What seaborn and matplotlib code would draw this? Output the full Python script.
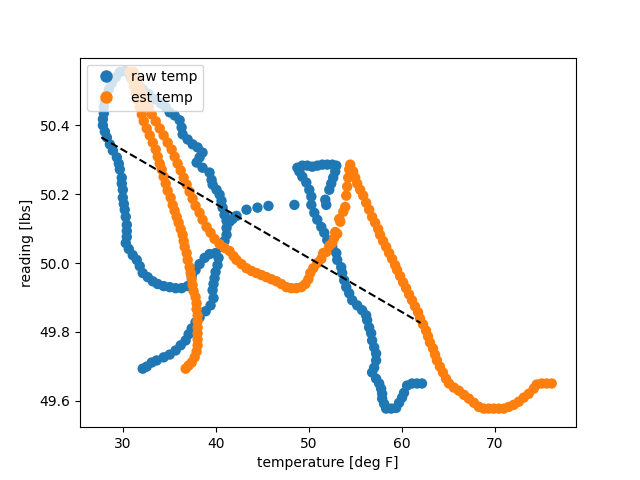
import matplotlib
matplotlib.use('Agg')
import matplotlib.pyplot as plt
import numpy as np
import pandas as pd
import seaborn as sns

# raw temperature readings (deg F) vs scale reading (lbs)
raw_x = [29.68, 29.25, 28.82, 28.50, 28.29, 28.07, 27.96, 27.96, 27.86, 27.86,
         28.07, 28.29, 28.61, 28.93, 29.36, 29.57, 29.68, 29.89, 29.89, 30.00,
         30.00, 30.11, 30.21, 30.32, 30.43, 30.43, 30.43, 30.32, 30.64, 31.07,
         31.50, 31.82, 32.14, 32.68, 33.22, 33.75, 34.39, 35.04, 35.68, 36.32,
         36.97, 37.40, 37.82, 38.25, 38.79, 39.32, 39.97, 40.29, 40.18, 39.97,
         39.86, 39.75, 39.65, 39.75, 39.43, 38.90, 38.25, 37.82, 37.40, 37.07,
         36.75, 36.22, 35.68, 35.04, 34.39, 33.64, 33.11, 32.57, 32.14,
         # upper strand
         30.21, 30.86, 31.50, 32.14, 32.79, 33.43, 34.07, 34.61, 35.04, 35.57,
         36.11, 36.32, 36.43, 36.97, 37.50, 38.04, 38.57, 38.25, 37.93, 38.57,
         39.32, 39.54, 39.65, 40.07, 40.40, 40.61, 40.72, 40.93, 41.15, 41.15,
         41.15, 40.93, 40.61, 41.47, 41.79, 42.22, 43.29, 44.47, 45.65, 48.44,
         # right loop
         48.76, 49.29, 49.83, 50.36, 50.90, 51.44, 51.97, 52.51, 52.94, 52.83,
         52.61, 52.40, 52.19, 51.76, 51.86, 48.97, 49.29, 49.72, 50.04, 50.26,
         50.26, 50.58, 50.90, 51.33, 51.65, 51.97, 52.51, 52.94, 53.04, 53.47,
         53.58, 53.79, 54.01, 54.33, 54.65, 55.19, 55.72, 56.15, 56.26, 56.47,
         56.69, 56.79, 57.01, 57.22, 57.22, 57.01, 56.79, 57.22, 57.55, 57.76,
         57.87, 57.87, 58.08, 58.30, 58.83, 59.37, 59.69, 60.01, 60.22, 60.55,
         61.08, 61.62, 62.15]
raw_y = [50.555, 50.540, 50.523, 50.505, 50.488, 50.470, 50.453, 50.435, 50.418, 50.400,
         50.382, 50.365, 50.345, 50.327, 50.307, 50.289, 50.272, 50.248, 50.231, 50.213,
         50.190, 50.172, 50.155, 50.134, 50.111, 50.093, 50.076, 50.058, 50.041, 50.023,
         50.009, 49.991, 49.971, 49.959, 49.947, 49.939, 49.933, 49.930, 49.927, 49.927,
         49.933, 49.962, 49.980, 49.997, 50.015, 50.026, 50.029, 50.015, 49.994, 49.974,
         49.956, 49.939, 49.921, 49.898, 49.877, 49.860, 49.842, 49.828, 49.810, 49.793,
         49.775, 49.761, 49.746, 49.734, 49.726, 49.717, 49.711, 49.699, 49.693,
         50.558, 50.540, 50.523, 50.505, 50.491, 50.476, 50.464, 50.453, 50.438, 50.429,
         50.415, 50.394, 50.374, 50.359, 50.345, 50.336, 50.321, 50.307, 50.292, 50.277,
         50.263, 50.242, 50.228, 50.213, 50.199, 50.181, 50.161, 50.140, 50.123, 50.102,
         50.082, 50.064, 50.047, 50.120, 50.128, 50.137, 50.155, 50.161, 50.166, 50.169,
         50.277, 50.283, 50.283, 50.280, 50.283, 50.286, 50.286, 50.286, 50.283, 50.266,
         50.248, 50.231, 50.213, 50.184, 50.169, 50.266, 50.251, 50.234, 50.213, 50.193,
         50.169, 50.146, 50.126, 50.105, 50.088, 50.067, 50.047, 50.029, 50.009, 49.988,
         49.971, 49.950, 49.930, 49.912, 49.892, 49.877, 49.863, 49.848, 49.834, 49.813,
         49.796, 49.775, 49.755, 49.737, 49.717, 49.696, 49.682, 49.664, 49.650, 49.635,
         49.620, 49.606, 49.591, 49.577, 49.577, 49.579, 49.594, 49.609, 49.623, 49.644,
         49.650, 49.650, 49.650]

# estimated temperature
est_x = [30.75, 30.96, 31.18, 31.39, 31.61, 31.82, 32.04, 32.25, 32.57, 32.89,
         33.22, 33.54, 33.75, 33.97, 34.18, 34.39, 34.61, 34.82, 35.14, 35.36,
         35.57, 35.79, 36.00, 36.22, 36.43, 36.54, 36.65, 36.86, 36.97, 37.18,
         37.29, 37.40, 37.50, 37.61, 37.82, 37.93, 37.93, 38.04, 38.04, 38.04,
         38.04, 38.04, 38.04, 37.93, 37.72, 37.40, 37.07, 36.75,
         31.18, 31.50, 31.82, 32.14, 32.47, 32.79, 33.11, 33.54, 33.97, 34.39,
         34.82, 35.25, 35.57, 35.89, 36.22, 36.54, 36.86, 37.18, 37.50, 37.82,
         38.25, 38.57, 39.00, 39.43, 39.86, 40.40, 40.93, 41.47, 41.90, 42.22,
         42.75, 43.29, 43.83, 44.36, 44.90, 45.43, 45.97, 46.51, 47.04, 47.58,
         48.11, 48.65, 49.19, 49.61, 49.94, 50.15, 50.47, 50.90, 51.33, 51.86,
         51.54, 52.19, 52.51, 52.72, 52.83, 53.04, 53.26, 53.37, 53.69, 53.90,
         54.01, 54.11, 54.22, 54.33, 54.44, 54.76,
         54.97, 55.19, 55.51, 55.83, 56.15, 56.47, 56.79, 57.12, 57.44, 57.65,
         57.97, 58.30, 58.62, 58.94, 59.26, 59.47, 59.80, 60.12, 60.44, 60.76,
         61.08, 61.40, 61.73, 61.94, 62.26, 62.58, 62.80, 63.01, 63.33, 63.55,
         63.76, 64.08, 64.40, 64.73, 65.05, 65.58, 66.12, 66.66, 67.19, 67.73,
         68.26, 68.80, 69.33, 69.87, 70.41, 70.94, 71.48, 72.01, 72.55, 73.09,
         73.62, 74.16, 74.48, 75.02, 75.56, 76.09]
est_y = [50.555, 50.534, 50.514, 50.493, 50.473, 50.453, 50.432, 50.412, 50.391, 50.371,
         50.350, 50.330, 50.309, 50.289, 50.272, 50.251, 50.231, 50.210, 50.190, 50.169,
         50.152, 50.134, 50.117, 50.099, 50.082, 50.064, 50.047, 50.029, 50.009, 49.988,
         49.971, 49.953, 49.936, 49.918, 49.901, 49.883, 49.866, 49.848, 49.831, 49.813,
         49.796, 49.778, 49.761, 49.743, 49.726, 49.711, 49.702, 49.693,
         50.555, 50.534, 50.514, 50.493, 50.473, 50.453, 50.432, 50.412, 50.391, 50.371,
         50.350, 50.330, 50.309, 50.289, 50.269, 50.248, 50.228, 50.207, 50.187, 50.166,
         50.146, 50.126, 50.105, 50.088, 50.070, 50.055, 50.044, 50.035, 50.020, 50.009,
         49.997, 49.985, 49.977, 49.971, 49.965, 49.959, 49.953, 49.947, 49.939, 49.930,
         49.927, 49.927, 49.930, 49.939, 49.953, 49.971, 49.985, 50.000, 50.012, 50.032,
         50.029, 50.050, 50.058, 50.073, 50.090, 50.085, 50.128, 50.120, 50.149, 50.163,
         50.196, 50.222, 50.248, 50.272, 50.286, 50.266,
         50.248, 50.231, 50.213, 50.196, 50.175, 50.155, 50.134, 50.117, 50.099, 50.082,
         50.064, 50.047, 50.029, 50.012, 49.994, 49.980, 49.962, 49.944, 49.927, 49.909,
         49.892, 49.874, 49.857, 49.839, 49.822, 49.804, 49.787, 49.769, 49.752, 49.734,
         49.717, 49.699, 49.682, 49.664, 49.650, 49.638, 49.629, 49.617, 49.606, 49.594,
         49.582, 49.577, 49.577, 49.577, 49.577, 49.577, 49.582, 49.588, 49.597, 49.609,
         49.620, 49.635, 49.647, 49.650, 49.650, 49.650]

# linear fit line
fit_x = [27.7, 62.0]
fit_y = [50.365, 49.826]

df = pd.concat([pd.DataFrame({'temp': raw_x, 'reading': raw_y, 'kind': 'raw temp'}),
                pd.DataFrame({'temp': est_x, 'reading': est_y, 'kind': 'est temp'})],
               ignore_index=True)

fig, ax = plt.subplots(figsize=(6.4, 4.8), dpi=100)
sns.scatterplot(data=df, x='temp', y='reading', hue='kind',
                palette=['#1f77b4', '#ff7f0e'], s=56, linewidth=0,
                edgecolor='none', ax=ax)
ax.plot(fit_x, fit_y, 'k--')

ax.set_xlim(25.4, 78.7)
ax.set_ylim(49.523, 50.597)
ax.set_xlabel('temperature [deg F]')
ax.set_ylabel('reading [lbs]')
ax.legend(loc='upper left', title=None, markerscale=1.2)

fig.savefig('out.png', dpi=100)
